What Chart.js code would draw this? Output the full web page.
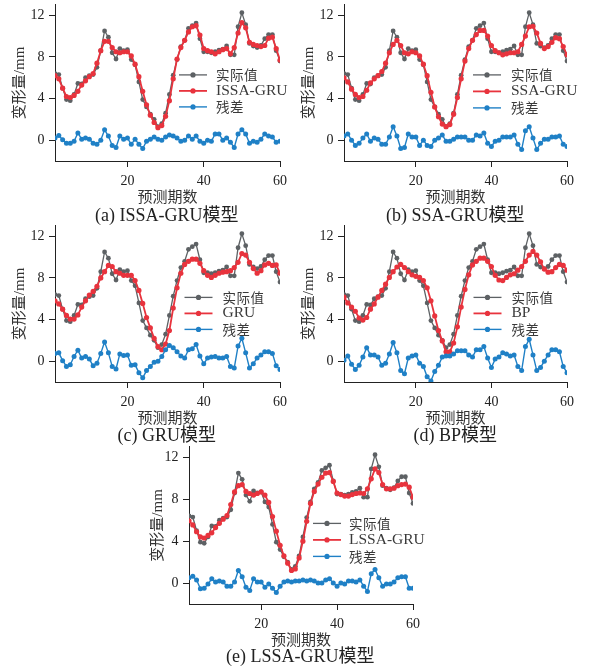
<!DOCTYPE html>
<html>
<head>
<meta charset="utf-8">
<script src="https://cdn.jsdelivr.net/npm/chart.js@4.4.1/dist/chart.umd.min.js"></script>
<style>
  html, body { margin: 0; padding: 0; background: #fff; }
  body { position: relative; width: 590px; height: 666px; overflow: hidden; }
  .panel { position: absolute; }
  .cap {
    position: absolute; white-space: nowrap; color: #222;
    font: 18px 'Liberation Serif', 'Noto Sans CJK SC', serif;
    transform: translate(-50%, -50%); line-height: 1;
  }
</style>
</head>
<body>
<script>
// Forecast periods 1..60
const periods = [1,2,3,4,5,6,7,8,9,10,11,12,13,14,15,16,17,18,19,20,
  21,22,23,24,25,26,27,28,29,30,31,32,33,34,35,36,37,38,39,40,
  41,42,43,44,45,46,47,48,49,50,51,52,53,54,55,56,57,58,59,60];

// Measured deformation (mm)
const actual = [6.4, 6.3, 5.0, 3.9, 3.8, 4.4, 5.45, 5.4, 6.0, 6.2, 6.3, 7.0, 8.6, 10.5, 9.9, 8.4, 7.8, 8.8, 8.6, 8.7,
  7.75, 7.25, 5.6, 3.9, 3.2, 2.5, 2.0, 1.3, 1.6, 2.6, 4.4, 6.25, 7.75, 9.0, 9.6, 10.75, 11.0, 11.25, 9.75, 8.5,
  8.5, 8.4, 8.5, 8.65, 8.75, 9.05, 8.2, 8.2, 10.9, 12.25, 11.1, 9.3, 9.05, 8.9, 9.1, 9.75, 10.15, 10.15, 8.6, 7.6];

// Model predictions
const predISSA = [6.2, 5.9, 5.0, 4.2, 4.1, 4.3, 4.7, 5.3, 5.7, 6.1, 6.4, 7.4, 8.6, 9.5, 9.5, 8.9, 8.5, 8.4, 8.5, 8.5,
  8.1, 7.3, 6.1, 4.7, 3.4, 2.4, 1.7, 1.2, 1.4, 2.3, 3.8, 5.9, 7.8, 8.9, 9.6, 10.4, 10.9, 11.0, 10.1, 8.8,
  8.6, 8.5, 8.3, 8.5, 8.7, 8.8, 8.3, 8.9, 10.3, 11.3, 10.8, 9.4, 9.2, 9.1, 9.0, 9.1, 9.8, 9.9, 8.8, 7.7];
const predSSA = [6.0, 5.6, 4.9, 4.4, 4.1, 4.2, 4.8, 5.5, 5.9, 6.2, 6.6, 7.4, 8.4, 9.2, 9.6, 9.1, 8.4, 8.3, 8.5, 8.4,
  8.1, 7.3, 6.2, 4.6, 3.2, 2.25, 1.55, 1.3, 1.5, 2.5, 4.1, 5.9, 7.6, 8.8, 9.6, 10.15, 10.55, 10.55, 10.0, 9.1,
  8.6, 8.4, 8.2, 8.3, 8.4, 8.4, 8.5, 9.2, 10.0, 10.9, 10.95, 10.3, 9.3, 8.8, 9.0, 9.4, 9.85, 9.75, 9.0, 8.2];
const predGRU = [5.8, 5.5, 5.0, 4.4, 4.05, 4.05, 4.45, 5.2, 5.8, 6.35, 6.7, 7.2, 8.0, 8.6, 9.2, 9.1, 8.6, 8.45, 8.25, 8.25,
  8.25, 7.75, 6.8, 5.55, 4.2, 3.2, 2.2, 1.4, 1.1, 1.65, 2.95, 5.1, 7.05, 8.45, 9.3, 9.6, 9.8, 9.8, 9.4, 8.7,
  8.25, 8.05, 8.25, 8.45, 8.55, 8.6, 8.7, 9.0, 9.5, 10.35, 10.2, 9.5, 8.9, 8.45, 8.7, 9.25, 9.4, 9.2, 9.25, 8.45];
const predBP = [6.15, 5.6, 5.2, 4.8, 4.15, 3.95, 4.2, 5.0, 5.5, 6.15, 6.8, 7.4, 8.05, 8.6, 9.05, 9.3, 9.0, 8.6, 8.3, 8.15,
  8.05, 7.75, 7.05, 5.8, 4.35, 2.95, 1.95, 0.9, 0.9, 1.75, 3.3, 5.2, 6.9, 8.3, 9.25, 9.6, 9.9, 9.9, 9.6, 9.1,
  8.25, 7.8, 7.75, 8.05, 8.3, 8.4, 8.75, 9.1, 9.6, 10.2, 10.55, 10.2, 9.55, 8.85, 8.55, 8.6, 9.0, 9.3, 9.2, 8.75];
const predLSSA = [5.95, 5.55, 4.9, 4.4, 4.3, 4.55, 4.8, 5.3, 5.7, 6.1, 6.45, 7.5, 8.7, 9.3, 9.4, 8.75, 8.55, 8.4, 8.55, 8.7,
  8.4, 7.7, 6.35, 4.95, 3.6, 2.6, 1.9, 1.2, 1.35, 2.4, 4.0, 5.9, 7.6, 8.75, 9.45, 10.1, 10.5, 10.55, 9.7, 8.6,
  8.45, 8.3, 8.3, 8.45, 8.55, 8.6, 8.55, 9.0, 9.95, 10.9, 10.55, 9.4, 9.0, 9.0, 9.05, 9.3, 9.4, 9.45, 9.15, 8.2];

// Residuals of each model
const resISSA = [0.2, 0.45, 0.05, -0.3, -0.3, -0.1, 0.7, 0.1, 0.2, 0.1, -0.3, -0.4, 0.0, 1.0, 0.4, -0.5, -0.7, 0.4, 0.1, 0.2,
  -0.4, 0.1, -0.4, -0.8, -0.1, 0.1, 0.3, 0.1, 0.0, 0.3, 0.5, 0.4, 0.2, -0.1, 0.0, 0.4, 0.1, 0.4, -0.1, -0.3,
  0.0, -0.1, 0.6, 0.6, 0.0, 0.2, -0.2, -0.7, 0.6, 1.0, 0.6, -0.3, -0.1, -0.2, 0.1, 0.6, 0.4, 0.3, -0.2, -0.1];
const resSSA = [0.4, 0.6, 0.0, -0.5, -0.3, 0.2, 0.6, -0.1, 0.2, 0.1, -0.4, -0.4, 0.3, 1.3, 0.4, -0.8, -0.7, 0.6, 0.3, 0.3,
  -0.5, 0.0, -0.5, -0.6, 0.0, 0.2, 0.5, -0.1, -0.1, 0.1, 0.3, 0.3, 0.3, 0.0, 0.0, 0.5, 0.4, 0.7, -0.3, -0.6,
  -0.1, 0.0, 0.3, 0.3, 0.3, 0.5, -0.4, -0.9, 0.9, 1.3, 0.2, -0.9, -0.3, 0.1, 0.1, 0.3, 0.3, 0.4, -0.4, -0.6];
const resGRU = [0.75, 0.8, 0.05, -0.5, -0.35, 0.45, 1.05, 0.3, 0.45, 0.2, -0.45, -0.2, 0.75, 1.85, 0.8, -0.5, -0.75, 0.7, 0.55, 0.6,
  -0.4, -0.35, -1.1, -1.6, -0.9, -0.5, -0.1, 0.0, 0.45, 1.1, 1.5, 1.3, 0.9, 0.5, 0.3, 1.1, 1.2, 1.6, 0.5, -0.25,
  0.3, 0.4, 0.45, 0.3, 0.3, 0.45, -0.5, -0.65, 1.45, 2.2, 0.8, -0.65, -0.25, 0.3, 0.6, 0.9, 0.9, 0.75, -0.45, -0.8];
const resBP = [0.1, 0.5, -0.3, -0.8, -0.4, 0.4, 1.3, 0.6, 0.6, 0.4, -0.4, -0.2, 0.7, 1.8, 0.8, -0.9, -1.2, 0.3, 0.5, 0.6,
  -0.2, -0.5, -1.5, -1.9, -1.0, -0.4, 0.4, 0.5, 0.5, 0.7, 1.0, 1.0, 1.0, 0.6, 0.4, 1.1, 1.1, 1.4, 0.3, -0.6,
  0.2, 0.4, 0.8, 0.7, 0.5, 0.6, -0.5, -0.9, 1.4, 2.1, 0.6, -0.9, -0.6, 0.0, 0.6, 1.1, 1.1, 0.9, -0.5, -1.1];
const resLSSA = [0.5, 0.65, 0.3, -0.55, -0.5, -0.1, 0.4, 0.1, 0.2, 0.1, -0.3, -0.3, 0.1, 1.2, 0.6, -0.4, -0.7, 0.4, 0.1, 0.1,
  -0.4, -0.1, -0.5, -0.9, -0.3, 0.1, 0.2, 0.1, 0.2, 0.2, 0.3, 0.2, 0.3, 0.2, 0.0, 0.0, 0.3, 0.4, 0.0, -0.3,
  0.0, -0.1, 0.2, 0.2, 0.1, 0.3, -0.3, -0.8, 0.9, 1.3, 0.5, -0.3, -0.1, -0.1, 0.1, 0.5, 0.6, 0.6, -0.5, -0.5];

const xTicks = [20, 40, 60];
const yTicks = [0, 4, 8, 12];

const GRAY = '#5d6164', RED = '#e8333d', BLUE = '#1f80c6';
const SERIF = "'Liberation Serif', 'Noto Sans CJK SC', serif";

// Inset legend: short line + marker + label, drawn inside the plot area
const insetLegend = {
  id: 'insetLegend',
  afterDatasetsDraw(chart, args, opts) {
    const { ctx, chartArea } = chart;
    const x0 = chartArea.left + opts.x;
    const y0 = chartArea.top + opts.y;
    chart.data.datasets.forEach((ds, i) => {
      const y = y0 + i * opts.dy;
      ctx.save();
      ctx.strokeStyle = ds.borderColor;
      ctx.lineWidth = ds.borderWidth;
      ctx.beginPath(); ctx.moveTo(x0, y); ctx.lineTo(x0 + 28, y); ctx.stroke();
      ctx.fillStyle = ds.pointBackgroundColor;
      ctx.beginPath(); ctx.arc(x0 + 14, y, 2.6, 0, Math.PI * 2); ctx.fill();
      ctx.fillStyle = '#3a3a3a';
      ctx.textBaseline = 'middle';
      ctx.textAlign = 'left';
      const cjk = /[\u4e00-\u9fff]/.test(ds.label);
      ctx.font = cjk ? "13.5px 'Noto Sans CJK SC'" : "15.5px 'Liberation Serif'";
      if (cjk) {
        // spread the CJK glyphs a little
        let x = x0 + opts.tx;
        for (const ch of ds.label) { ctx.fillText(ch, x, y); x += ctx.measureText(ch).width + 0.5; }
      } else {
        ctx.fillText(ds.label, x0 + opts.tx, y);
      }
      ctx.restore();
    });
  }
};

const panels = [
  { L: 54.5, R: 279,   T: 1.7,   B: 161,   pred: predISSA, res: resISSA, name: 'ISSA-GRU', cap: '(a) ISSA-GRU模型', leg: { x: 124, y: 70, dy: 16, tx: 37 }, tp: 6.5, cy: 54 },
  { L: 344,  R: 566.5, T: 1.7,   B: 161,   pred: predSSA,  res: resSSA,  name: 'SSA-GRU',  cap: '(b) SSA-GRU模型',  leg: { x: 129, y: 70, dy: 16.5, tx: 38 }, tp: 6.5, cy: 54 },
  { L: 54.5, R: 279,   T: 223.4, B: 382.5, pred: predGRU,  res: resGRU,  name: 'GRU',      cap: '(c) GRU模型',      leg: { x: 129.5, y: 71.5, dy: 16, tx: 38 }, tp: 6.5, cy: 52.5 },
  { L: 344,  R: 566.5, T: 223.4, B: 382.5, pred: predBP,   res: resBP,   name: 'BP',       cap: '(d) BP模型',       leg: { x: 129.5, y: 71.5, dy: 16, tx: 38 }, tp: 6.5, cy: 52.5 },
  { L: 188.5, R: 412,  T: 444.3, B: 604.7, pred: predLSSA, res: resLSSA, name: 'LSSA-GRU', cap: '(e) LSSA-GRU模型', leg: { x: 124, y: 76.5, dy: 16.5, tx: 36 }, tp: 10, cy: 51 }
];

const YW = 50, PAD_TOP = 10, PAD_RIGHT = 14, XH = 46;

function axisCommon() {
  return {
    grid: { display: true, drawOnChartArea: false, drawTicks: true, tickLength: 6, color: '#222', lineWidth: 1 },
    border: { display: true, color: '#222', width: 1 }
  };
}

function series(label, data, color, order, lw, r) {
  return {
    label, data, order,
    borderColor: color, backgroundColor: color,
    pointBackgroundColor: color, pointBorderColor: color,
    borderWidth: lw, pointRadius: r, pointBorderWidth: 0, pointHoverRadius: r,
    tension: 0, fill: false
  };
}

panels.forEach(p => {
  const div = document.createElement('div');
  div.className = 'panel';
  const w = (p.R - p.L) + YW + PAD_RIGHT;
  const h = PAD_TOP + (p.B - p.T) + XH;
  div.style.left = (p.L - YW) + 'px';
  div.style.top = (p.T - PAD_TOP) + 'px';
  const cv = document.createElement('canvas');
  cv.width = Math.round(w); cv.height = Math.round(h);
  cv.style.width = Math.round(w) + 'px'; cv.style.height = Math.round(h) + 'px';
  div.appendChild(cv);
  document.body.appendChild(div);

  new Chart(cv, {
    type: 'line',
    data: {
      labels: periods,
      datasets: [
        series('实际值', actual, GRAY, 2, 1.3, 2.4),
        series(p.name, p.pred, RED, 1, 1.8, 2.6),
        series('残差', p.res, BLUE, 0, 1.4, 2.5)
      ]
    },
    options: {
      responsive: false, animation: false, devicePixelRatio: 1,
      events: [],
      layout: { padding: { top: PAD_TOP, right: (w - YW - (p.R - p.L)), left: 0, bottom: 0 } },
      plugins: { legend: { display: false }, tooltip: { enabled: false }, insetLegend: p.leg },
      scales: {
        x: Object.assign(axisCommon(), {
          type: 'linear', min: 1, max: 60,
          afterBuildTicks: s => { s.ticks = xTicks.map(v => ({ value: v })); },
          afterFit: s => { s.height = XH; },
          ticks: { color: '#222', font: { family: SERIF, size: 14 }, padding: 5.5, maxRotation: 0, autoSkip: false },
          title: { display: true, text: '预测期数', color: '#333', font: { family: SERIF, size: 15 }, padding: { top: 0, bottom: 0 } }
        }),
        y: Object.assign(axisCommon(), {
          type: 'linear', min: -2, max: 13,
          afterBuildTicks: s => { s.ticks = yTicks.map(v => ({ value: v })); },
          afterFit: s => { s.width = YW; },
          ticks: { color: '#222', font: { family: SERIF, size: 14 }, padding: 4.5 },
          title: { display: true, text: '变形量/mm', color: '#333', font: { family: SERIF, size: 15 }, padding: { top: p.tp, bottom: 0 } }
        })
      }
    },
    plugins: [insetLegend]
  });

  const cap = document.createElement('div');
  cap.className = 'cap';
  cap.textContent = p.cap;
  cap.style.left = ((p.L + p.R) / 2) + 'px';
  cap.style.top = (p.B + p.cy) + 'px';
  document.body.appendChild(cap);
});
</script>
</body>
</html>
